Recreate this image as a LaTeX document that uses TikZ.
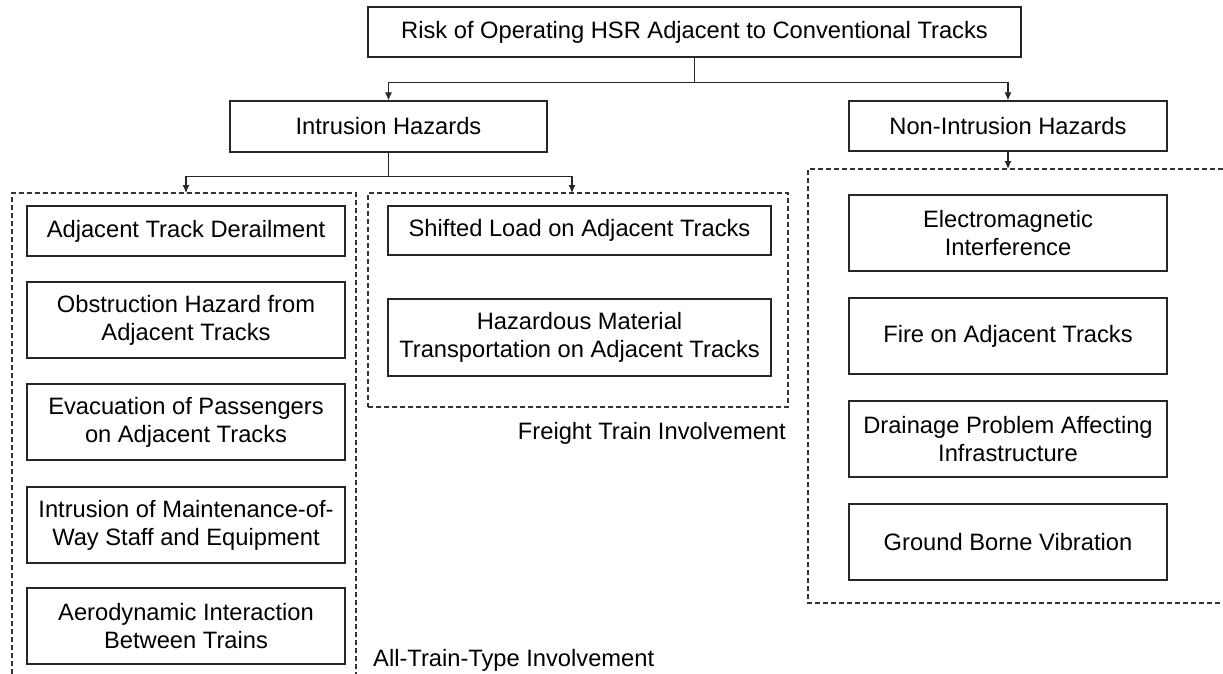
\documentclass[tikz,border=0pt]{standalone}
\usepackage{fontspec}
\setmainfont{Liberation Sans}
\usetikzlibrary{arrows.meta}
\begin{document}
\begin{tikzpicture}[x=1pt,y=-1pt,
  txt/.style={font=\fontsize{23.7}{28}\selectfont},
  box/.style={txt, draw=black!85, line width=1.3pt, align=center, inner sep=0pt},
  leftbox/.style={box, minimum width=318pt},
  rightbox/.style={box, minimum width=318pt, minimum height=76pt},
  grp/.style={draw=black!80, line width=1.2pt, dash pattern=on 5pt off 3pt},
  link/.style={draw=black!85, line width=1.1pt},
  arr/.style={link, -{Latex[length=8pt,width=7pt]}},
  lbl/.style={txt, inner sep=0pt}]
\useasboundingbox (0,0) rectangle (1223,674);

% top of the hierarchy
\node[box, minimum width=653pt, minimum height=50pt] (root) at (694.5,32)
  {Risk of Operating HSR Adjacent to Conventional Tracks};
\node[box, minimum width=317pt, minimum height=51pt] (intr) at (388.5,126.5)
  {Intrusion Hazards};
\node[box, minimum width=318pt, minimum height=50pt] (nonintr) at (1008,126)
  {Non-Intrusion Hazards};

% dashed groups
\coordinate (allIn) at (186,193);
\coordinate (frIn) at (572,193);
\coordinate (nonIn) at (1008,169);
\draw[grp] (12,674) -- (12,193) -- (356,193) -- (356,674);
\node[grp, minimum width=420pt, minimum height=214pt, inner sep=0pt] (freight) at (578,300) {};
\draw[grp] (1223,169) -- (808,169) -- (808,603) -- (1223,603);

% all-train-type involvement
\node[leftbox, minimum height=50pt] (atd) at (186,231) {Adjacent Track Derailment};
\node[leftbox, minimum height=76pt] (obs) at (186,320) {Obstruction Hazard from\\Adjacent Tracks};
\node[leftbox, minimum height=76pt] (evac) at (186,422) {Evacuation of Passengers\\on Adjacent Tracks};
\node[leftbox, minimum height=76pt] (mow) at (186,525) {Intrusion of Maintenance-of-\\Way Staff and Equipment};
\node[leftbox, minimum height=76pt] (aero) at (186,626) {Aerodynamic Interaction\\Between Trains};
\node[lbl, anchor=base west] (allLbl) at (373,666) {All-Train-Type Involvement};

% freight train involvement
\node[box, minimum width=383pt, minimum height=49pt] (shift) at (579.5,230.5) {Shifted Load on Adjacent Tracks};
\node[box, minimum width=383pt, minimum height=77pt] (hazmat) at (579.5,337.5) {Hazardous Material\\Transportation on Adjacent Tracks};
\node[lbl, anchor=base east] (frLbl) at (786,439) {Freight Train Involvement};

% non-intrusion hazards
\node[rightbox] (emi) at (1008,233) {Electromagnetic\\Interference};
\node[rightbox] (fire) at (1008,336) {Fire on Adjacent Tracks};
\node[rightbox] (drain) at (1008,439) {Drainage Problem Affecting\\Infrastructure};
\node[rightbox] (gbv) at (1008,542) {Ground Borne Vibration};

% connectors
\draw[link] (root.south) -- ++(0,25) coordinate (j1);
\draw[arr] (j1) -| (intr.north);
\draw[arr] (j1) -| (nonintr.north);
\draw[link] (intr.south) -- ++(0,24) coordinate (j2);
\draw[arr] (j2) -| (allIn);
\draw[arr] (j2) -| (frIn);
\draw[arr] (nonintr.south) -- (nonIn);
\end{tikzpicture}
\end{document}
